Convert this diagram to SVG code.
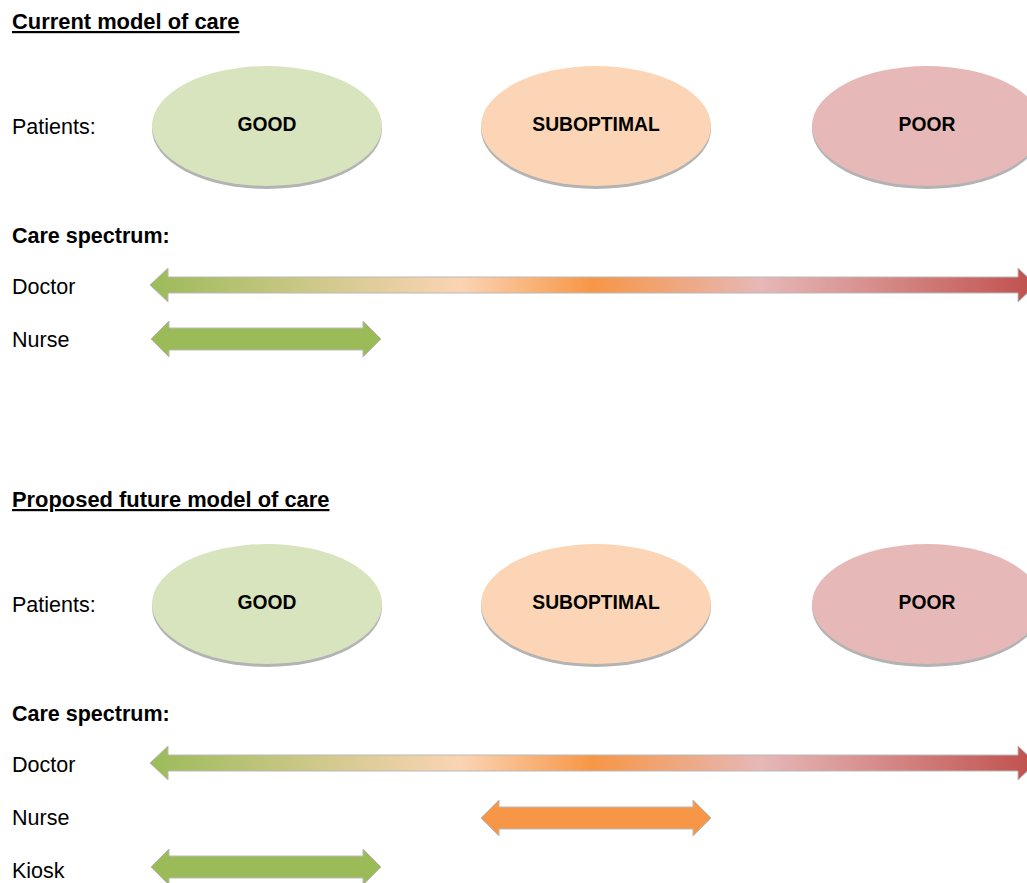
<svg xmlns="http://www.w3.org/2000/svg" width="1027" height="883" viewBox="0 0 1027 883">
<style>
.t{font-family:"Liberation Sans",Arial,sans-serif;font-size:21.5px;fill:#000}
.b{font-weight:bold}
.h{font-weight:bold;text-decoration:underline;font-size:21.9px}
.e{font-family:"Liberation Sans",Arial,sans-serif;font-size:19.3px;font-weight:bold;fill:#000;text-anchor:middle}
.arr{stroke:#b9b9b9;stroke-width:1}
</style>
<defs>
<linearGradient id="spec" gradientUnits="userSpaceOnUse" x1="150" y1="0" x2="1036" y2="0">
<stop offset="0" stop-color="#9bbb59"/>
<stop offset="0.35" stop-color="#fbd4b4"/>
<stop offset="0.5" stop-color="#f79646"/>
<stop offset="0.69" stop-color="#e6b8b7"/>
<stop offset="1" stop-color="#c0504d"/>
</linearGradient>
<filter id="sh" x="-10%" y="-10%" width="120%" height="130%">
<feOffset dx="0" dy="2.5" in="SourceAlpha" result="o"/>
<feFlood flood-color="#b3b3b3"/>
<feComposite in2="o" operator="in" result="s"/>
<feMerge><feMergeNode in="s"/><feMergeNode in="SourceGraphic"/></feMerge>
</filter>
</defs>

<g id="top-section">
<text class="t h" x="12" y="29">Current model of care</text>
<text class="t" x="12" y="134">Patients:</text>
<text class="t b" x="12" y="243">Care spectrum:</text>
<text class="t" x="12" y="294">Doctor</text>
<text class="t" x="12" y="347">Nurse</text>
</g>
<g id="top-good"><ellipse cx="267" cy="126" rx="115" ry="60" fill="#d7e4bd" filter="url(#sh)"/><text class="e" x="267" y="131">GOOD</text></g>
<g id="top-suboptimal"><ellipse cx="596" cy="126" rx="115" ry="60" fill="#fbd5b5" filter="url(#sh)"/><text class="e" x="596" y="131">SUBOPTIMAL</text></g>
<g id="top-poor"><ellipse cx="927" cy="126" rx="115" ry="60" fill="#e6b9b8" filter="url(#sh)"/><text class="e" x="927" y="131">POOR</text></g>

<g id="bottom-section">
<text class="t h" x="12" y="507">Proposed future model of care</text>
<text class="t" x="12" y="612">Patients:</text>
<text class="t b" x="12" y="721">Care spectrum:</text>
<text class="t" x="12" y="772">Doctor</text>
<text class="t" x="12" y="825">Nurse</text>
<text class="t" x="12" y="878">Kiosk</text>
</g>
<g id="bottom-good"><ellipse cx="267" cy="604" rx="115" ry="60" fill="#d7e4bd" filter="url(#sh)"/><text class="e" x="267" y="609">GOOD</text></g>
<g id="bottom-suboptimal"><ellipse cx="596" cy="604" rx="115" ry="60" fill="#fbd5b5" filter="url(#sh)"/><text class="e" x="596" y="609">SUBOPTIMAL</text></g>
<g id="bottom-poor"><ellipse cx="927" cy="604" rx="115" ry="60" fill="#e6b9b8" filter="url(#sh)"/><text class="e" x="927" y="609">POOR</text></g>

<g id="connectors">
<path class="arr" fill="url(#spec)" d="M150,285 L168,268 L168,277 L1018,277 L1018,268 L1036,285 L1018,302 L1018,293 L168,293 L168,302 Z"/>
<path class="arr" fill="#9bbb59" d="M151,339 L169,321 L169,328 L363,328 L363,321 L381,339 L363,357 L363,350 L169,350 L169,357 Z"/>
<path class="arr" fill="url(#spec)" d="M150,763 L168,746 L168,755 L1018,755 L1018,746 L1036,763 L1018,780 L1018,771 L168,771 L168,780 Z"/>
<path class="arr" fill="#f79646" d="M481,818 L499,800 L499,807 L693,807 L693,800 L711,818 L693,836 L693,829 L499,829 L499,836 Z"/>
<path class="arr" fill="#9bbb59" d="M151,867 L169,849 L169,856 L363,856 L363,849 L381,867 L363,885 L363,878 L169,878 L169,885 Z"/>
</g>
</svg>
